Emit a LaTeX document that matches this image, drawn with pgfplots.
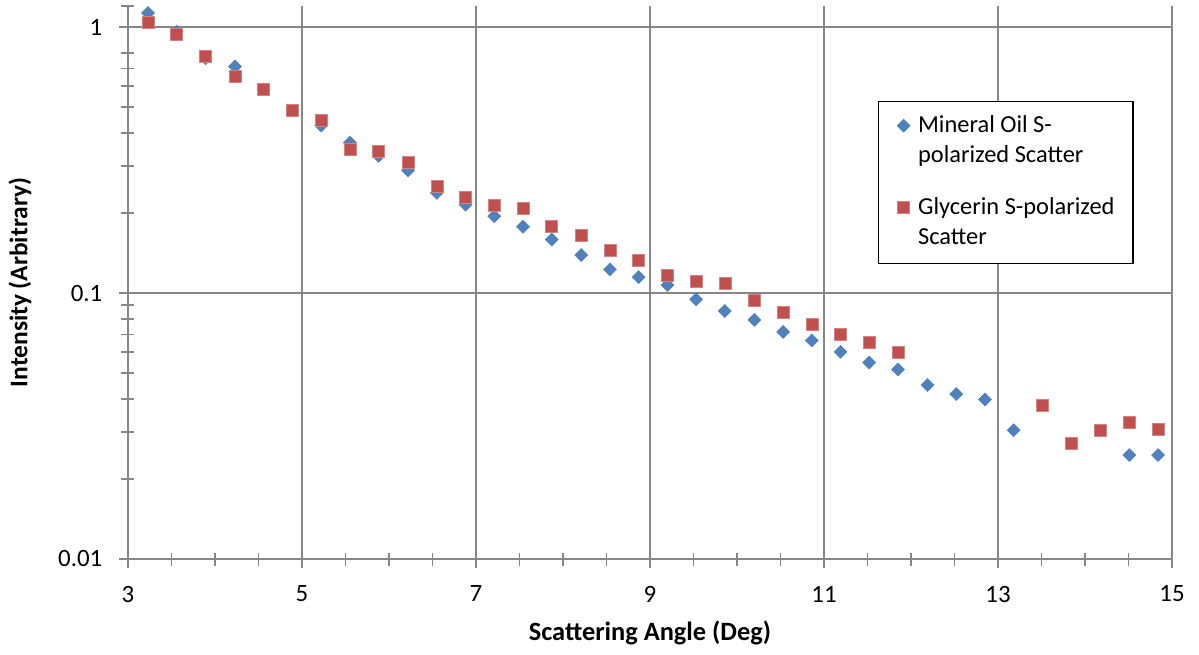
\documentclass[border=0pt]{standalone}
\usepackage{fontspec}
\setmainfont{Carlito}
\usepackage{pgfplots}
\pgfplotsset{compat=1.18}
\usepackage{pgfplotstable}

\definecolor{oilblue}{HTML}{4F81BD}
\definecolor{glyred}{HTML}{C0504D}
\definecolor{gridgray}{HTML}{868686}

% Scattering angle (deg) vs intensity
\pgfplotstableread{
x      y
3.23   1.129
3.56   0.960
3.89   0.763
4.23   0.711
4.56   0.583
4.89   0.485
5.22   0.426
5.55   0.368
5.88   0.328
6.22   0.289
6.55   0.238
6.88   0.215
7.21   0.1945
7.54   0.1775
7.87   0.159
8.21   0.1389
8.54   0.1227
8.87   0.1148
9.20   0.1072
9.53   0.0947
9.86   0.0856
10.20  0.0793
10.53  0.0714
10.86  0.0663
11.19  0.0601
11.52  0.0548
11.85  0.0516
12.19  0.0451
12.52  0.0417
12.85  0.0398
13.18  0.0305
14.51  0.0246
14.84  0.0246
}\oil

\pgfplotstableread{
x      y
3.23   1.041
3.56   0.936
3.89   0.775
4.23   0.653
4.56   0.585
4.89   0.485
5.22   0.445
5.55   0.348
5.88   0.341
6.22   0.309
6.55   0.252
6.88   0.230
7.21   0.2134
7.54   0.2085
7.87   0.179
8.21   0.1643
8.54   0.1443
8.87   0.133
9.20   0.1168
9.53   0.1104
9.86   0.1085
10.20  0.0943
10.53  0.0848
10.86  0.0761
11.19  0.0702
11.52  0.0651
11.85  0.0597
13.51  0.0378
13.84  0.0273
14.18  0.0305
14.51  0.0327
14.84  0.0307
}\glycerin

\begin{document}
\begin{tikzpicture}
\begin{axis}[
    name=ax,
    scale only axis,
    width=1044bp, height=553bp,
    xmin=3, xmax=15,
    ymode=log, ymin=0.01, ymax=1.2,
    xtick={3,5,...,15},
    minor x tick num=3,
    ytick={0.01,0.1,1},
    yticklabels={0.01,0.1,1},
    minor ytick={0.02,0.03,...,0.09,0.2,0.3,...,0.9},
    extra y ticks={1.2},
    extra y tick labels={},
    extra y tick style={grid=none, major tick length=13bp},
    axis x line*=bottom, axis y line*=left,
    grid=major,
    major grid style={gridgray, line width=1.8bp},
    axis line style={gridgray, line width=1.8bp},
    tick style={gridgray, line width=1.5bp},
    tick align=center,
    major tick length=17bp, minor tick length=13bp,
    /pgf/number format/assume math mode=true,
    tick label style={font=\fontsize{25}{30}\selectfont, inner sep=0pt},
    xticklabel style={anchor=center, yshift=-26.5bp},
    yticklabel style={anchor=east, xshift=-17bp},
    xlabel={Scattering Angle (Deg)},
    ylabel={Intensity (Arbitrary)},
    xlabel style={font=\fontsize{26.5}{30}\selectfont\bfseries,
        at={(axis description cs:0.5,-0.1338)}, anchor=center},
    ylabel style={font=\fontsize{25.5}{30}\selectfont\bfseries,
        at={(axis description cs:-0.1034,0.5)}, anchor=center},
    legend image code/.code={\draw[#1] plot coordinates {(0bp,0bp)};},
    legend style={
        at={(axis description cs:0.7184,0.828)}, anchor=north west,
        draw=black, line width=1.2bp, fill=white,
        font=\fontsize{24.5}{30}\selectfont,
        inner xsep=18.5bp, inner ysep=10bp,
        column sep=8bp, row sep=22bp,
        cells={anchor=base west},
        nodes={inner xsep=0pt, inner ysep=0pt, text depth={}},
    },
    every legend image post/.append style={yshift=7bp},
]
\addplot[only marks, mark=square*, mark size=4.6bp,
    mark options={rotate=45, fill=oilblue, draw=oilblue, line width=0.5bp}]
    table[x=x, y=y] {\oil};
\addlegendentry{\begin{tabular}[t]{@{}l@{}}Mineral Oil S-\\polarized Scatter\end{tabular}}
\addplot[only marks, mark=square*, mark size=6bp,
    mark options={fill=glyred, draw=glyred!70!white, line width=0.5bp}]
    table[x=x, y=y] {\glycerin};
\addlegendentry{\begin{tabular}[t]{@{}l@{}}Glycerin S-polarized\\Scatter\end{tabular}}
\end{axis}
\pgfresetboundingbox
\path ([xshift=-128bp, yshift=-96bp]ax.south west)
    rectangle ([xshift=27bp, yshift=6bp]ax.north east);
\end{tikzpicture}
\end{document}
